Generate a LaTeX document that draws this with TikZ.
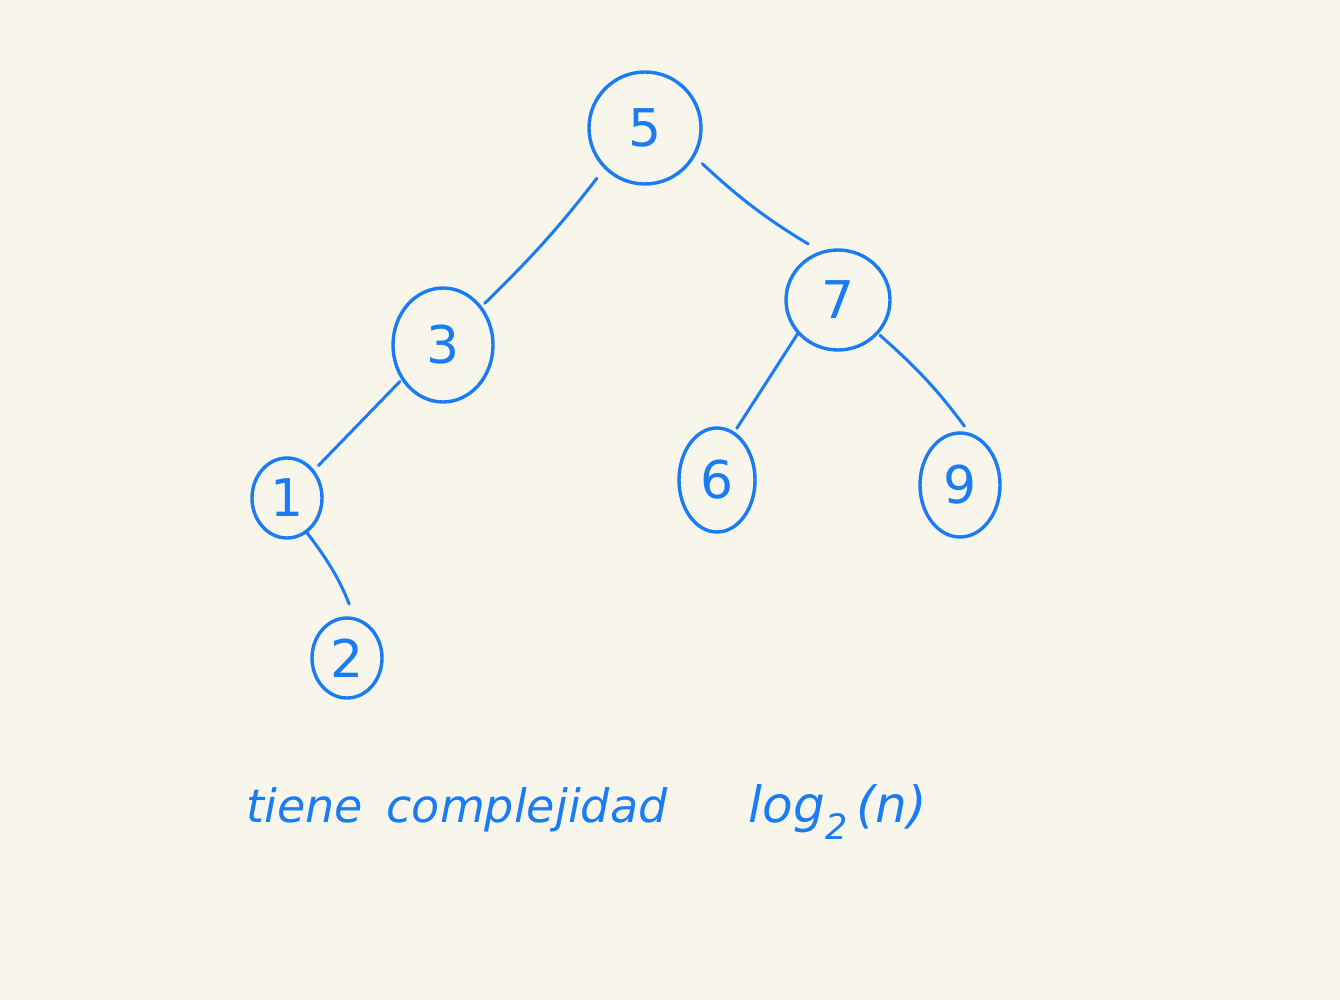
\documentclass[tikz,border=0pt]{standalone}
\usepackage{fontspec}
\setmainfont{DejaVu Sans}
\usetikzlibrary{shapes.geometric}
\definecolor{ink}{HTML}{1A7CF5}
\definecolor{paper}{HTML}{F8F5EA}
\tikzset{
  knot/.style={ellipse, draw=ink, line width=3.4pt, inner sep=0pt, font=\fontsize{52}{60}\selectfont, text=ink},
  edge/.style={draw=ink, line width=3pt, line cap=round},
  hand/.style={text=ink, font=\itshape\fontsize{46}{54}\selectfont, anchor=base}
}
\begin{document}
\begin{tikzpicture}[x=1pt,y=-1pt]
\fill[paper] (0,0) rectangle (1340,1000);
\useasboundingbox (0,0) rectangle (1340,1000);
\node[knot, minimum width=112pt, minimum height=112pt] (n5) at (645,128) {5};
\node[knot, minimum width=100pt, minimum height=114pt] (n3) at (443,345) {3};
\node[knot, minimum width=104pt, minimum height=100pt] (n7) at (838,300) {7};
\node[knot, minimum width=70pt, minimum height=80pt] (n1) at (287,498) {1};
\node[knot, minimum width=76pt, minimum height=104pt] (n6) at (717,480) {6};
\node[knot, minimum width=80pt, minimum height=104pt] (n9) at (960,485) {9};
\node[knot, minimum width=70pt, minimum height=80pt] (n2) at (347,658) {2};
\draw[edge, shorten <=12pt, shorten >=4pt] (n5.-135) to[bend left=4] (n3.45);
\draw[edge, shorten <=10pt, shorten >=14pt] (n5.-30) to[bend right=6] (n7.110);
\draw[edge, shorten <=2pt, shorten >=6pt] (n3.-140) -- (n1);
\draw[edge, shorten <=0pt, shorten >=4pt] (n7.-140) -- (n6.70);
\draw[edge, shorten <=2pt, shorten >=8pt] (n7.-40) to[bend left=6] (n9.80);
\draw[edge, shorten <=0pt, shorten >=14pt] (n1.-60) to[bend left=8] (n2.80);
\node[hand] (t1) at (305,822) {tiene};
\node[hand] (t2) at (527,822) {complejidad};
\node[hand, font=\itshape\fontsize{50}{58}\selectfont] (t3) at (838,822) {log\textsubscript{2}\,(n)};
\end{tikzpicture}
\end{document}
